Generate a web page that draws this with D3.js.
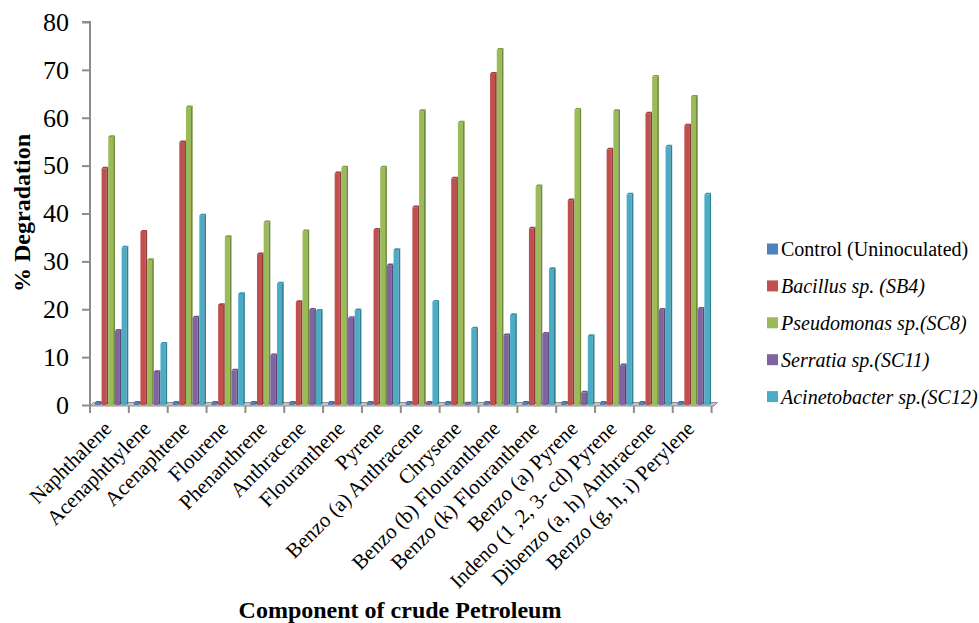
<!DOCTYPE html>
<html>
<head>
<meta charset="utf-8">
<script src="https://cdn.jsdelivr.net/npm/d3@7"></script>
<style>
  html, body { margin: 0; padding: 0; background: #fff; }
  svg { display: block; }
  svg text { font-family: "Liberation Serif", "Times New Roman", serif; }
</style>
</head>
<body>
<svg id="chart" width="979" height="623"></svg>
<script>
// Hydrocarbon components of crude petroleum
const categories = [
  "Naphthalene", "Acenaphthylene", "Acenaphtene", "Flourene", "Phenanthrene",
  "Anthracene", "Flouranthene", "Pyrene", "Benzo (a) Anthracene", "Chrysene",
  "Benzo (b) Flouranthene", "Benzo (k) Flouranthene", "Benzo (a) Pyrene",
  "Indeno (1 ,2, 3- cd) Pyrene", "Dibenzo (a, h) Anthracene", "Benzo (g, h, i) Perylene"
];

// Series names (legend) and % degradation per component
const seriesNames = [
  "Control (Uninoculated)",
  "Bacillus sp. (SB4)",
  "Pseudomonas sp.(SC8)",
  "Serratia sp.(SC11)",
  "Acinetobacter sp.(SC12)"
];
const control       = [0.5, 0.5, 0.5, 0.5, 0.5, 0.5, 0.5, 0.5, 0.5, 0.5, 0.5, 0.5, 0.5, 0.5, 0.5, 0.5];
const bacillus      = [49.4, 36.2, 54.9, 20.9, 31.5, 21.5, 48.4, 36.6, 41.3, 47.3, 69.2, 36.9, 42.8, 53.4, 60.9, 58.4];
const pseudomonas   = [56.0, 30.3, 62.2, 35.1, 38.2, 36.3, 49.6, 49.6, 61.4, 59.0, 74.2, 45.7, 61.7, 61.4, 68.6, 64.4];
const serratia      = [15.5, 6.9, 18.3, 7.2, 10.4, 19.9, 18.2, 29.2, 0.5, 0.3, 14.6, 14.9, 2.6, 8.3, 19.9, 20.1];
const acinetobacter = [32.9, 12.8, 39.6, 23.2, 25.4, 19.7, 19.8, 32.4, 21.6, 16.0, 18.8, 28.4, 14.4, 44.0, 54.0, 44.0];
const seriesValues = [control, bacillus, pseudomonas, serratia, acinetobacter];
const yTicks = [0, 10, 20, 30, 40, 50, 60, 70, 80];

const FONT = "Liberation Serif, Times New Roman, serif";

const palette = [
  { front: "#4F81BD", side: "#385D8A", top: "#3F6CA3" },
  { front: "#C0504D", side: "#8C3836", top: "#9E3F3C" },
  { front: "#9BBB59", side: "#6E8A3A", top: "#7E9E44" },
  { front: "#8064A2", side: "#5C4776", top: "#6A5288" },
  { front: "#4BACC6", side: "#317F94", top: "#3A93AB" }
];

const svg = d3.select("#chart");
const x0 = 90, x1End = 711.6, yBase = 405, yTop = 22;

const x = d3.scaleBand().domain(categories).range([x0, x1End]).padding(0);
const bw = x.bandwidth();
const xs = d3.scaleBand().domain(d3.range(seriesNames.length))
  .range([bw * 0.126, bw * 0.986]).padding(0);
const y = d3.scaleLinear().domain([0, 80]).range([yBase, yTop]);

const depth = 1.7;

// Floor slab
svg.append("polygon")
  .attr("points", [[x0, yBase + 1], [x1End + 2.5, yBase + 1], [x1End + 6, yBase - 2.5], [x0 + 3.5, yBase - 2.5]].map(p => p.join(",")).join(" "))
  .attr("fill", "#c4c4c4").attr("stroke", "#8f8f8f").attr("stroke-width", 1);

// Y axis
const yAxis = svg.append("g").attr("transform", `translate(${x0},0)`)
  .call(d3.axisLeft(y).tickValues(yTicks).tickSize(8).tickPadding(13).tickFormat(d3.format("d")));
yAxis.attr("font-family", FONT);
yAxis.select(".domain").attr("stroke", "#8c8c8c").attr("stroke-width", 2)
  .attr("d", `M-8,${y(80)}H0V${yBase + 8}`);
yAxis.selectAll(".tick line").attr("stroke", "#8c8c8c").attr("stroke-width", 2);
yAxis.selectAll(".tick text").attr("font-size", 26).attr("fill", "#000")
  .attr("font-family", FONT);

// X axis tick marks at category boundaries
const boundaries = d3.range(categories.length + 1).map(i => x0 + i * bw);
svg.append("g").selectAll("line").data(boundaries).join("line")
  .attr("x1", d => d).attr("x2", d => d)
  .attr("y1", yBase + 1).attr("y2", yBase + 8)
  .attr("stroke", "#8c8c8c").attr("stroke-width", 2);

// 3D bars
const bars = svg.append("g");
categories.forEach((cat, ci) => {
  seriesValues.forEach((vals, si) => {
    const v = vals[ci];
    const c = palette[si];
    const bx = x(cat) + xs(si);
    const w = xs.bandwidth() - depth;
    const yt = y(v), yb = y(0);
    const g = bars.append("g");
    g.append("rect").attr("x", bx).attr("y", yt).attr("width", w).attr("height", yb - yt).attr("fill", c.front);
    g.append("polygon").attr("points", [[bx + w, yt], [bx + w + depth, yt - depth], [bx + w + depth, yb - depth], [bx + w, yb]].map(p => p.join(",")).join(" "))
      .attr("fill", c.side);
    g.append("polygon").attr("points", [[bx, yt], [bx + depth, yt - depth], [bx + w + depth, yt - depth], [bx + w, yt]].map(p => p.join(",")).join(" "))
      .attr("fill", c.top);
  });
});

// Category labels, rotated
svg.append("g").selectAll("text").data(categories).join("text")
  .attr("transform", d => `translate(${x(d) + bw / 2 + 3.5},430) rotate(-45)`)
  .attr("text-anchor", "end")
  .attr("font-family", FONT)
  .attr("font-size", 21)
  .attr("fill", "#000")
  .text(d => d);

// Axis titles
svg.append("text")
  .attr("transform", "translate(30,213) rotate(-90)")
  .attr("text-anchor", "middle").attr("font-weight", "bold").attr("font-size", 24)
  .attr("font-family", FONT)
  .text("% Degradation");
svg.append("text")
  .attr("x", 400).attr("y", 618)
  .attr("text-anchor", "middle").attr("font-weight", "bold").attr("font-size", 24)
  .attr("font-family", FONT)
  .text("Component of crude Petroleum");

// Legend
const legend = svg.append("g").attr("transform", "translate(767,249)");
seriesNames.forEach((name, i) => {
  const row = legend.append("g").attr("transform", `translate(0,${i * 36.9})`);
  row.append("rect").attr("x", 0).attr("y", -5.5).attr("width", 11).attr("height", 11).attr("fill", palette[i].front);
  row.append("text").attr("x", 14).attr("y", 7).attr("font-size", 20)
    .attr("font-family", FONT)
    .attr("font-style", i === 0 ? "normal" : "italic")
    .attr("fill", "#000")
    .text(name);
});
</script>
</body>
</html>
